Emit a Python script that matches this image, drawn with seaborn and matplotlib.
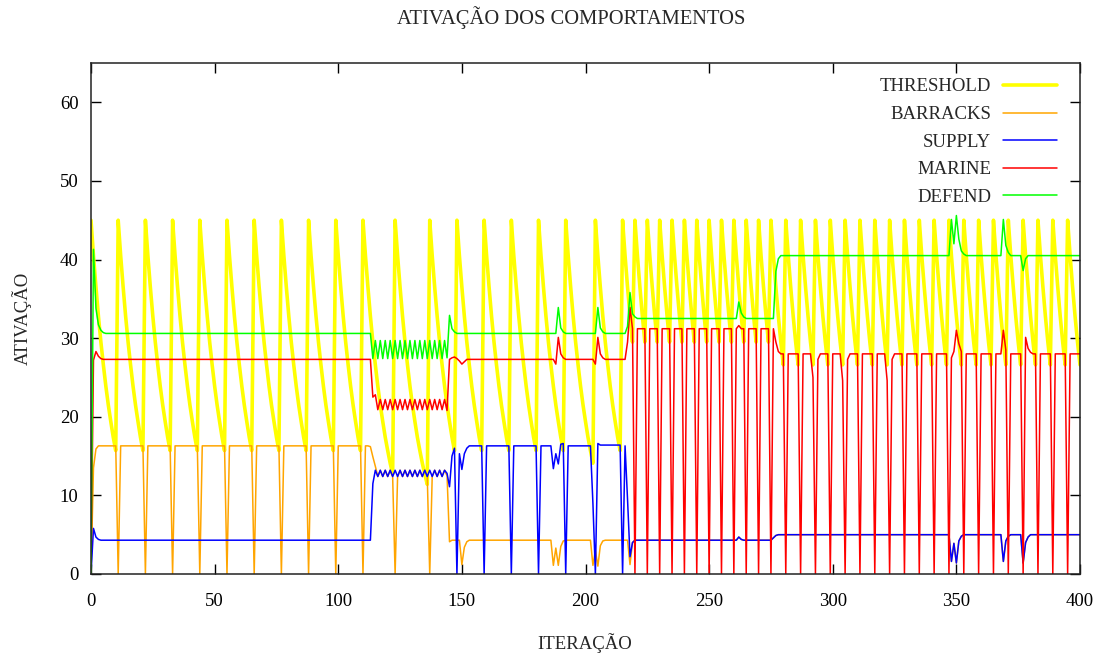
import numpy as np
import pandas as pd
import matplotlib
matplotlib.use("Agg")
import matplotlib.pyplot as plt
import seaborn as sns

# ---------------------------------------------------------------
# data (one value per iteration, 0..400)
# ---------------------------------------------------------------
iteracao = np.arange(0, 401)

# threshold jumps back to 45 at these iterations, then decays
threshold_resets = [0, 11, 22, 33, 44, 55, 66, 77, 88, 99, 110, 123, 137, 148, 159,
                    170, 181, 192, 204, 215, 220, 225, 230, 235, 240, 245, 250, 255,
                    260, 265, 270, 275, 281, 287, 293, 299, 305, 311, 317, 323, 329,
                    335, 341, 347, 353, 359, 365, 371, 377, 383, 389, 395]
# value of the threshold k steps after a reset
threshold_decay = [45.0, 40.5, 36.5, 32.8, 29.5, 26.6, 23.9, 21.5, 19.4, 17.4,
                   15.7, 14.1, 12.7, 11.4]

# behaviours: (iteration, value) points, value holds until the next point
# "fires" = iterations where the behaviour was executed and dropped to 0
barracks_pts = [(0, 0.0), (1, 13.5), (2, 15.9), (3, 16.3), (113, 16.2), (114, 14.9),
                (115, 13.7), (116, 12.9), (144, 12.5), (145, 4.1), (146, 4.3),
                (150, 1.2), (151, 3.4), (152, 4.1), (153, 4.3),
                (187, 1.1), (188, 3.3), (189, 1.1), (190, 3.5), (191, 4.2), (192, 4.3),
                (203, 1.1), (204, 3.0), (205, 1.0), (206, 3.6), (207, 4.2), (208, 4.3),
                (218, 1.2)]
barracks_fires = [11, 22, 33, 44, 55, 66, 77, 88, 99, 110, 123, 137]

supply_pts = [(0, 0.0), (1, 5.8), (2, 4.7), (3, 4.4), (4, 4.3), (114, 11.5), (115, 13.2),
              (144, 12.8), (145, 11.1), (146, 15.0), (147, 16.0),
              (149, 15.3), (150, 13.3), (151, 15.3), (152, 16.0), (153, 16.3),
              (187, 13.4), (188, 15.3), (189, 14.0), (190, 16.5), (191, 16.6), (193, 16.3),
              (203, 9.0), (205, 16.6), (206, 16.4),
              (216, 16.3), (217, 9.5), (218, 2.2), (219, 4.0), (220, 4.3),
              (262, 4.7), (263, 4.4), (264, 4.3), (276, 4.6), (277, 4.9), (278, 5.0),
              (348, 1.6), (349, 3.9), (350, 1.4), (351, 4.2), (352, 4.8), (353, 5.0),
              (369, 1.6), (370, 4.2), (371, 4.8), (372, 5.0),
              (377, 1.4), (378, 4.0), (379, 4.7), (380, 5.0)]
supply_zigzag = [12.4, 13.2, 12.4, 13.2, 12.4, 13.2, 12.4, 13.2, 12.4, 13.2, 12.4, 13.2,
                 12.4, 13.2, 12.4, 13.2, 12.4, 13.2, 12.4, 13.2, 12.4, 13.2, 12.4, 13.2,
                 12.4, 13.2, 12.4, 13.2]  # iterations 116..143
supply_fires = [148, 159, 170, 181, 192, 204, 215]

marine_pts = [(0, 0.0), (1, 27.2), (2, 28.3), (3, 27.7), (4, 27.4), (5, 27.3),
              (114, 22.5), (115, 22.8), (144, 20.8),
              (145, 27.3), (146, 27.5), (147, 27.6), (148, 27.4), (149, 27.1),
              (150, 26.7), (151, 27.0), (152, 27.3),
              (188, 26.7), (189, 30.1), (190, 28.0), (191, 27.5), (192, 27.3),
              (204, 26.7), (205, 30.1), (206, 28.0), (207, 27.5), (208, 27.3),
              (217, 29.5), (218, 33.9), (219, 31.2), (262, 31.6), (263, 31.2),
              (277, 29.5), (278, 28.3), (279, 28.0),
              (292, 25.0), (294, 27.3), (295, 28.0), (304, 24.6), (306, 27.3), (307, 28.0),
              (322, 24.6), (324, 27.3), (325, 28.0),
              (348, 27.5), (349, 28.3), (350, 31.0), (351, 29.3), (352, 28.3), (354, 28.0),
              (369, 31.0), (370, 28.5), (372, 28.0),
              (378, 30.1), (379, 28.7), (380, 28.2), (381, 28.0)]
marine_zigzag = [20.9, 22.2, 20.9, 22.2, 20.9, 22.2, 20.9, 22.2, 20.9, 22.2, 20.9, 22.2,
                 20.9, 22.2, 20.9, 22.2, 20.9, 22.2, 20.9, 22.2, 20.9, 22.2, 20.9, 22.2,
                 20.9, 22.2, 20.9, 22.2]  # iterations 116..143
marine_fires = [220, 225, 230, 235, 240, 245, 250, 255, 260, 265, 270, 275, 281, 287,
                293, 299, 305, 311, 317, 323, 329, 335, 341, 347, 353, 359, 365, 371,
                377, 383, 389, 395]

defend_pts = [(0, 0.0), (1, 41.3), (2, 33.8), (3, 31.7), (4, 31.0), (5, 30.7), (6, 30.6),
              (114, 27.4), (144, 27.5), (145, 32.9), (146, 31.2), (147, 30.8), (148, 30.6),
              (189, 33.9), (190, 31.3), (191, 30.8), (192, 30.6),
              (205, 33.9), (206, 31.3), (207, 30.8), (208, 30.6),
              (217, 31.5), (218, 35.8), (219, 33.1), (220, 32.7), (221, 32.5),
              (262, 34.6), (263, 33.2), (264, 32.7), (265, 32.5),
              (277, 38.5), (278, 40.1), (279, 40.5),
              (348, 45.1), (349, 42.0), (350, 45.6), (351, 42.6), (352, 41.1), (353, 40.7),
              (354, 40.5), (369, 45.1), (370, 41.8), (371, 40.9), (372, 40.5),
              (377, 38.6), (378, 40.1), (379, 40.5)]
defend_zigzag = [29.7, 27.4, 29.7, 27.4, 29.7, 27.4, 29.7, 27.4, 29.7, 27.4, 29.7, 27.4,
                 29.7, 27.4, 29.7, 27.4, 29.7, 27.4, 29.7, 27.4, 29.7, 27.4, 29.7, 27.4,
                 29.7, 27.4, 29.7, 27.4, 29.7]  # iterations 115..143


def hold_series(points, zigzag=(), zig_start=0, fires=()):
    vals = pd.Series(np.nan, index=iteracao)
    for it, v in points:
        vals[it] = v
    for k, v in enumerate(zigzag):
        vals[zig_start + k] = v
    vals = vals.ffill()
    vals[list(fires)] = 0.0
    return vals.to_numpy()


# threshold: look up how many steps since the last reset
last_reset = pd.Series(np.nan, index=iteracao)
last_reset[threshold_resets] = threshold_resets
last_reset = last_reset.ffill().astype(int).to_numpy()
threshold = np.array([threshold_decay[i - r] for i, r in zip(iteracao, last_reset)])

supply = hold_series(supply_pts, supply_zigzag, 116, supply_fires)
barracks = hold_series(barracks_pts, fires=barracks_fires)
# barracks is hidden under the supply line during the zigzag and after 219
barracks[116:144] = supply[116:144]
barracks[219:] = supply[219:]
barracks[[123, 137]] = 0.0
marine = hold_series(marine_pts, marine_zigzag, 116, marine_fires)
defend = hold_series(defend_pts, defend_zigzag, 115)

# ---------------------------------------------------------------
# plot
# ---------------------------------------------------------------
sns.set_style("ticks")
plt.rcParams['font.family'] = ['Liberation Serif', 'DejaVu Serif']

fig, ax = plt.subplots(figsize=(11, 6.56), dpi=100)
fig.subplots_adjust(left=91 / 1100, right=1080 / 1100, top=1 - 63 / 656, bottom=1 - 574 / 656)

series = [('THRESHOLD', threshold, '#ffff00', 2.6),
          ('BARRACKS', barracks, '#ffa500', 1.1),
          ('SUPPLY', supply, '#0000ff', 1.1),
          ('MARINE', marine, '#ff0000', 1.1),
          ('DEFEND', defend, '#00ff00', 1.1)]
for name, vals, col, lw in series:
    sns.lineplot(x=iteracao, y=vals, color=col, linewidth=lw, label=name,
                 estimator=None, ax=ax)

ax.set_xlim(0, 400)
ax.set_ylim(0, 65)
ax.set_xticks(range(0, 401, 50))
ax.set_yticks(range(0, 61, 10))
ax.tick_params(direction='in', top=True, right=True, length=7, width=1,
               labelsize=13.5, colors='black')
ax.tick_params(axis='y', pad=9)
ax.tick_params(axis='x', pad=14)
for sp in ax.spines.values():
    sp.set_linewidth(1.1)
    sp.set_color('#222222')
ax.set_xlabel('')
ax.set_ylabel('')

fig.text(571 / 1100, 1 - 18 / 656, 'ATIVAÇÃO DOS COMPORTAMENTOS', ha='center', va='center',
         fontsize=14.8)
fig.text(585 / 1100, 1 - 643 / 656, 'ITERAÇÃO', ha='center', va='center', fontsize=13.5)
fig.text(22 / 1100, 1 - 318 / 656, 'ATIVAÇÃO', ha='center', va='center', rotation=90,
         fontsize=13.5)

ax.legend(loc='upper right', bbox_to_anchor=(0.9767, 0.970), frameon=False,
          markerfirst=False, handlelength=2.9, handletextpad=0.6, labelspacing=0.56,
          fontsize=13.5, borderaxespad=0, borderpad=0)

plt.savefig('out.png', dpi=100)
